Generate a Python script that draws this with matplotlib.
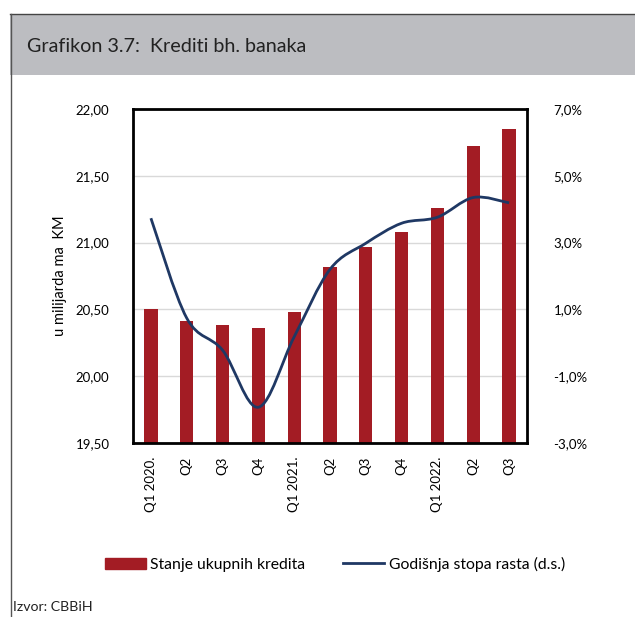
import matplotlib
matplotlib.use('agg')
import matplotlib.pyplot as plt
from matplotlib.path import Path
from matplotlib.patches import PathPatch, Rectangle
from matplotlib.lines import Line2D
from matplotlib.ticker import FuncFormatter
import numpy as np

plt.rcParams['font.family'] = ['Lato', 'DejaVu Sans']

quarters = ['Q1 2020.', 'Q2', 'Q3', 'Q4', 'Q1 2021.', 'Q2', 'Q3', 'Q4',
            'Q1 2022.', 'Q2', 'Q3']
credits = [20.50, 20.41, 20.38, 20.36, 20.48, 20.815, 20.97, 21.08,
           21.26, 21.72, 21.85]
growth = [3.73, 0.74, -0.22, -1.93, 0.18, 2.2, 2.98, 3.58, 3.76, 4.35, 4.19]

bar_color = '#a31c24'
line_color = '#1f3864'

fig = plt.figure(figsize=(6.35, 6.17), dpi=100)

# frame: grey header band + left rule
fig.patches.append(Rectangle((10 / 635, 1 - 75 / 617), 625 / 635, 61 / 617,
                             transform=fig.transFigure, facecolor='#bcbdc1',
                             edgecolor='none', zorder=0))
fig.lines.append(Line2D([10 / 635, 1], [1 - 14 / 617, 1 - 14 / 617],
                        transform=fig.transFigure, color='#444444', lw=1))
fig.lines.append(Line2D([10.5 / 635, 10.5 / 635], [0, 1 - 14 / 617],
                        transform=fig.transFigure, color='#555555', lw=1))
fig.text(27 / 635, 1 - 46 / 617, 'Grafikon 3.7:  Krediti bh. banaka',
         fontsize=14.2, color='#222222', va='center', ha='left')
fig.text(13 / 635, 1 - 607 / 617, 'Izvor: CBBiH', fontsize=10.2,
         color='#222222', va='center', ha='left')

ax = fig.add_axes([133 / 635, 1 - 443 / 617, 394 / 635, 334 / 617])
x = np.arange(len(quarters))
ax.bar(x, credits, width=0.37, color=bar_color, zorder=2,
       label='Stanje ukupnih kredita')
ax.set_ylim(19.5, 22.0)
ax.set_xlim(-0.5, len(quarters) - 0.5)
ax.set_yticks(np.arange(19.5, 22.01, 0.5))
ax.yaxis.set_major_formatter(FuncFormatter(lambda v, p: f'{v:.2f}'.replace('.', ',')))
ax.grid(axis='y', color='#d9d9d9', lw=1, zorder=0)
ax.set_axisbelow(True)
ax.set_xticks(x)
ax.set_xticklabels(quarters, rotation=90, va='top', ha='center')
ax.tick_params(axis='x', length=0, pad=10, labelsize=9.5)
ax.tick_params(axis='y', length=0, pad=17, labelsize=9.5)
for s in ax.spines.values():
    s.set_linewidth(2)
    s.set_color('black')
ax.set_ylabel('u milijarda ma  KM', fontsize=10.5, labelpad=6)

ax2 = ax.twinx()
ax2.set_ylim(-3, 7)
ax2.set_yticks(np.arange(-3, 7.01, 2))
ax2.yaxis.set_major_formatter(FuncFormatter(lambda v, p: f'{v:.1f}%'.replace('.', ',')))
ax2.tick_params(axis='y', length=0, pad=19, labelsize=9.5)
for s in ax2.spines.values():
    s.set_visible(False)

# smoothed line (Catmull-Rom bezier, like Excel's smoothed lines)
pts = np.column_stack([x, growth]).astype(float)
ext = np.vstack([pts[0], pts, pts[-1]])
verts = [pts[0]]
codes = [Path.MOVETO]
for i in range(len(pts) - 1):
    p0, p1, p2, p3 = ext[i], ext[i + 1], ext[i + 2], ext[i + 3]
    c1 = p1 + (p2 - p0) / 6
    c2 = p2 - (p3 - p1) / 6
    verts += [c1, c2, p2]
    codes += [Path.CURVE4] * 3
ax2.add_patch(PathPatch(Path(verts, codes), facecolor='none',
                        edgecolor=line_color, lw=2, zorder=3))

# legend
handles = [Rectangle((0, 0), 1, 1, color=bar_color),
           Line2D([], [], color=line_color, lw=2)]
fig.legend(handles, ['Stanje ukupnih kredita', 'Godišnja stopa rasta (d.s.)'],
           loc='center', bbox_to_anchor=(335 / 635, 1 - 564 / 617), ncol=2,
           frameon=False, fontsize=11.3, handlelength=2.6, handletextpad=0.3,
           columnspacing=2.4)

fig.savefig('out.png', dpi=100)
